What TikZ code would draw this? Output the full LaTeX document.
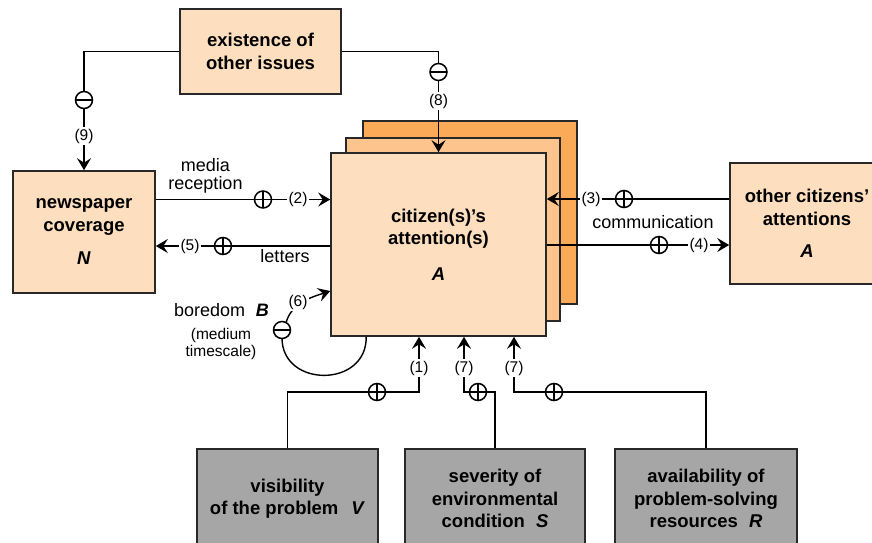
\documentclass[tikz,border=0pt]{standalone}
\usepackage{fontspec}
\setmainfont{Liberation Sans}
\usetikzlibrary{arrows.meta,calc}
\definecolor{peach}{RGB}{253,222,190}
\definecolor{peachmid}{RGB}{253,197,141}
\definecolor{peachdark}{RGB}{251,171,87}
\definecolor{boxgray}{RGB}{166,166,166}
\definecolor{edge}{RGB}{40,40,40}
\begin{document}
\begin{tikzpicture}[x=1pt,y=-1pt,
  box/.style={draw=edge, line width=1.6pt, fill=peach, align=center, inner sep=0pt,
    font=\fontsize{18.5}{22.5}\selectfont\bfseries},
  gbox/.style={box, fill=boxgray},
  conn/.style={draw=black, line width=1.4pt},
  arr/.style={-{Stealth[length=12pt,width=14pt,inset=4.5pt]}},
  lbl/.style={font=\fontsize{18}{18}\selectfont, inner sep=0pt, align=center},
  num/.style={font=\fontsize{15.5}{18}\selectfont, fill=white, inner sep=2pt},
  small/.style={font=\fontsize{15.5}{17}\selectfont, inner sep=0pt, align=center},
  pm/.style={circle, draw=black, fill=white, minimum size=17pt, inner sep=0pt, line width=1.5pt},
  pluss/.style={pm, path picture={\draw[line width=1.4pt]
      (path picture bounding box.north) -- (path picture bounding box.south)
      (path picture bounding box.west) -- (path picture bounding box.east);}},
  minuss/.style={pm, path picture={\draw[line width=1.4pt]
      (path picture bounding box.west) -- (path picture bounding box.east);}},
]
\useasboundingbox (0,0) rectangle (872,542);
\clip (0,0) rectangle (872,542);
\fill[white] (0,0) rectangle (872,542);

% boxes
\node[box, minimum width=161pt, minimum height=85pt] (exist) at (260.5,51.5) {existence of\\other issues};
\node[box, minimum width=142pt, minimum height=122pt] (news) at (84,232) {newspaper\\coverage\\[11pt]\textit{N}};
\node[box, fill=peachdark, minimum width=214pt, minimum height=183pt] (cback) at (470,212.5) {};
\node[box, fill=peachmid, minimum width=214pt, minimum height=183pt] (cmid) at (453,229.5) {};
\node[box, minimum width=215pt, minimum height=183pt] (cfront) at (438.5,244.5) {citizen(s)’s\\attention(s)\\[13pt]\textit{A}};
\node[box, minimum width=154pt, minimum height=121pt] (other) at (807,223.5) {other citizens’\\attentions\\[10pt]\textit{A}};
\node[gbox, minimum width=181pt, minimum height=99pt] (vis) at (287.5,498.5) {visibility\\of the problem\hspace{0.7em}\textit{V}};
\node[gbox, minimum width=180pt, minimum height=99pt] (sev) at (495,498.5) {severity of\\environmental\\condition\hspace{0.6em}\textit{S}};
\node[gbox, minimum width=182pt, minimum height=99pt] (res) at (706,498.5) {availability of\\problem-solving\\resources\hspace{0.6em}\textit{R}};

% level coordinates
\coordinate (r2) at (0,199.5);
\coordinate (r5) at (0,246);
\coordinate (r3) at (0,199);
\coordinate (r4) at (0,245);
\coordinate (r6) at (0,291);
\coordinate (c1) at (419,392);
\coordinate (c7a) at (464,392);
\coordinate (c7b) at (514,392);
\coordinate (bstart) at ($(cfront.south west)+(36,0)$);
\coordinate (bm) at (282,330);

% connectors
\draw[conn,arr] (exist.west) -| (news.north);
\draw[conn,arr] (exist.east) -| (cfront.north);
\draw[conn,arr] (news.east |- r2) -- (cfront.west |- r2);
\draw[conn,arr] (cfront.west |- r5) -- (news.east |- r5);
\draw[conn,arr] (other.west |- r3) -- (cfront.east |- r3);
\draw[conn,arr] (cfront.east |- r4) -- (other.west |- r4);
\draw[conn,arr] (vis.north) |- (c1) -- (c1 |- cfront.south);
\draw[conn,arr] (sev.north) |- (c7a) -- (c7a |- cfront.south);
\draw[conn,arr] (res.north) |- (c7b) -- (c7b |- cfront.south);
\draw[conn] (bstart) .. controls (367,388) and (282,388) .. ($(bm)+(0,8)$);
\draw[conn,arr] ($(bm)+(4,-7)$) .. controls (291,303) and (312,297) .. (cfront.west |- r6);

% signs
\node[minuss] (m9) at (84,100) {};
\node[minuss] (m8) at (438.5,72) {};
\node[pluss] (p2) at (263,199.5) {};
\node[pluss] (p5) at (223,246) {};
\node[pluss] (p3) at (624,199) {};
\node[pluss] (p4) at (659,245) {};
\node[pluss] (p1) at (377,392) {};
\node[pluss] (p7a) at (478,392) {};
\node[pluss] (p7b) at (554,392) {};
\node[minuss] (mB) at (bm) {};

% numbers
\node[num] (n9) at (84,136) {(9)};
\node[num] (n8) at (438.5,101) {(8)};
\node[num] (n2) at (298,199.5) {(2)};
\node[num] (n5) at (190,246) {(5)};
\node[num] (n3) at (591,199) {(3)};
\node[num] (n4) at (699,245) {(4)};
\node[num] (n1) at (419,368) {(1)};
\node[num] (n7a) at (464,368) {(7)};
\node[num] (n7b) at (514,368) {(7)};
\node[num] (n6) at (298,302) {(6)};

% labels
\node[lbl] (lmedia) at (205.5,176) {media\\reception};
\node[lbl] (lletters) at (285,256) {letters};
\node[lbl] (lcomm) at (653,222) {communication};
\node[lbl] (lbored) at (221.5,310) {boredom\hspace{0.6em}\textbf{\textit{B}}};
\node[small] (lmed) at (221,343.5) {(medium\\timescale)};
\end{tikzpicture}
\end{document}
